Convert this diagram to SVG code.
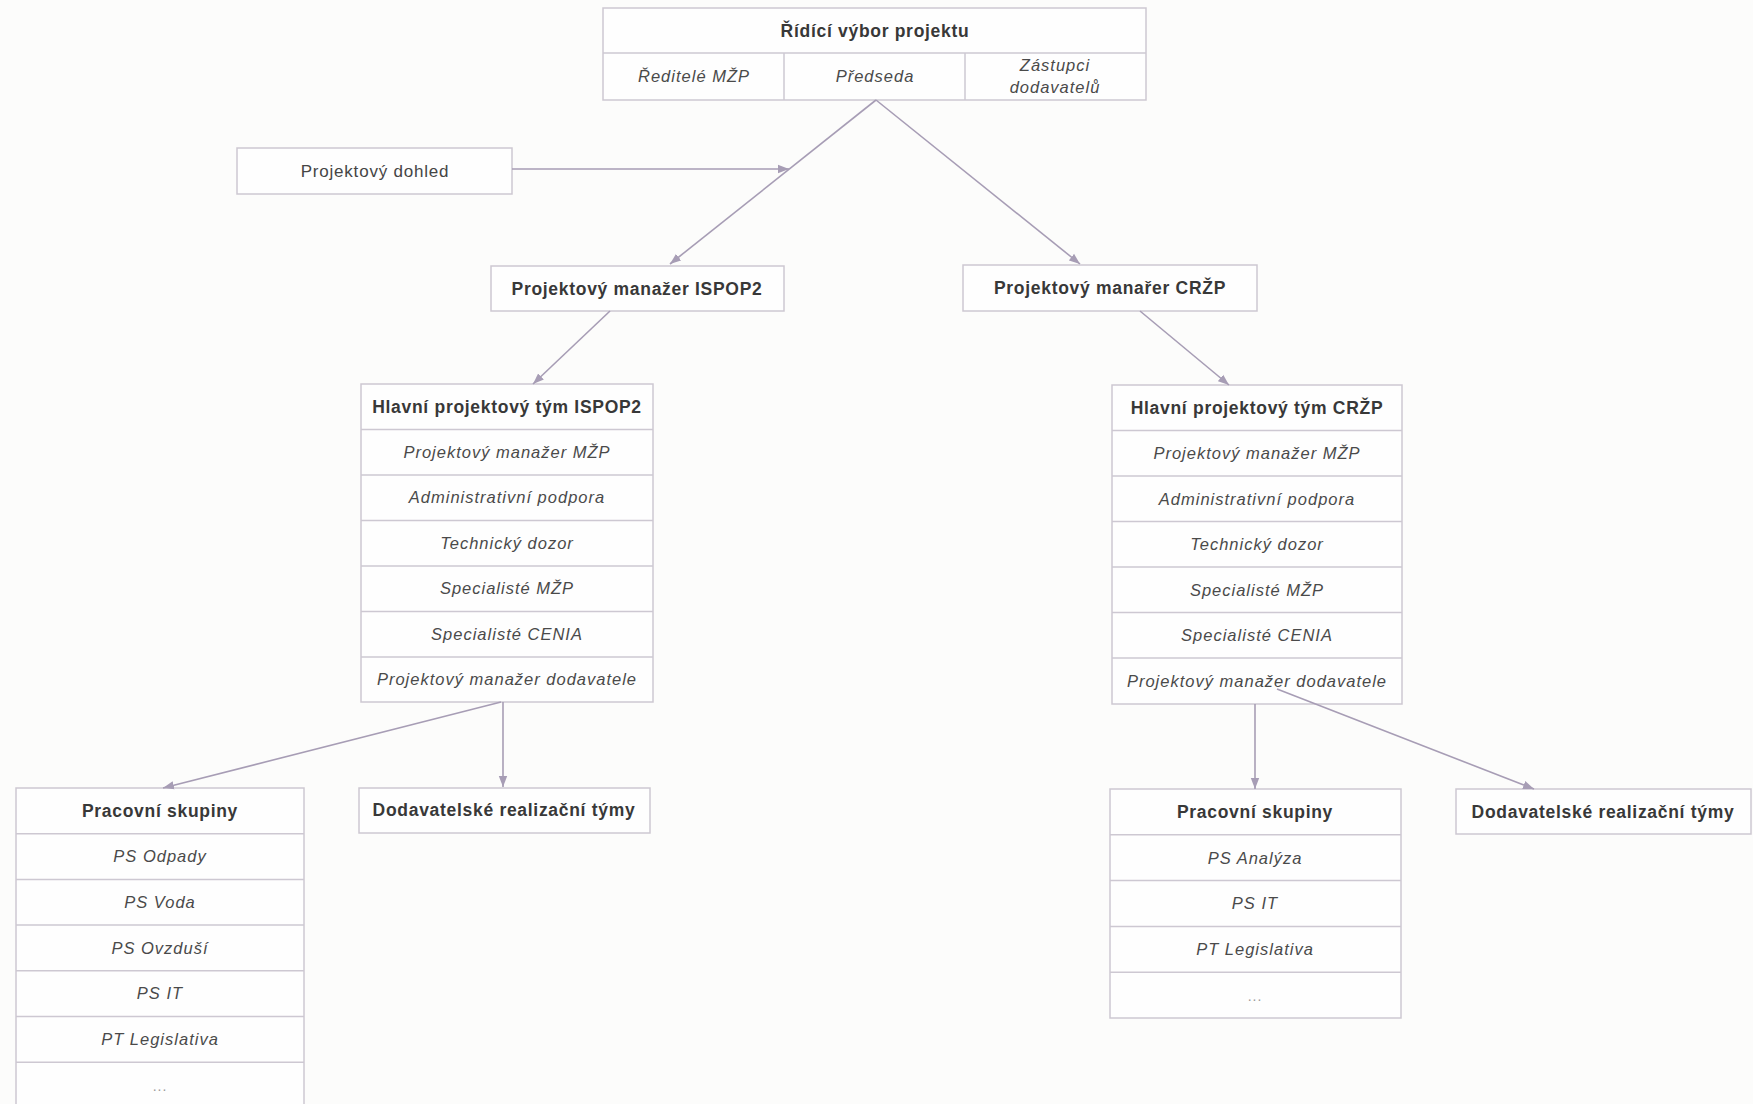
<svg xmlns="http://www.w3.org/2000/svg" width="1753" height="1104" viewBox="0 0 1753 1104">
<defs>
<marker id="ah" markerUnits="userSpaceOnUse" markerWidth="12" markerHeight="10" viewBox="0 0 12 10" refX="11" refY="5" orient="auto">
<path d="M0,0.8 L11,5 L0,9.2 Z" fill="#a79db5"/>
</marker>
<style>
.box{fill:#fefefe;stroke:#cdc8d2;stroke-width:1.5}
.sep{stroke:#cdc8d2;stroke-width:1.5}
.b{font-family:"Liberation Sans",Arial,sans-serif;font-weight:bold;font-size:17.5px;letter-spacing:0.7px;fill:#383838;text-anchor:middle}
.i{font-family:"Liberation Sans",Arial,sans-serif;font-style:italic;font-size:16.5px;letter-spacing:1px;fill:#4a4a4a;text-anchor:middle}
.r{font-family:"Liberation Sans",Arial,sans-serif;font-size:17px;letter-spacing:0.8px;fill:#454545;text-anchor:middle}
.d{font-family:"Liberation Sans",Arial,sans-serif;font-size:14px;letter-spacing:1px;fill:#9a9a9a;text-anchor:middle}
.c{stroke:#a79db5;stroke-width:1.6;fill:none;marker-end:url(#ah)}
</style>
</defs>
<rect width="1753" height="1104" fill="#fcfcfb"/>

<g id="ridici-vybor">
<rect class="box" x="603" y="8" width="543" height="92"/>
<line class="sep" x1="603" y1="53" x2="1146" y2="53"/>
<line class="sep" x1="784" y1="53" x2="784" y2="100"/>
<line class="sep" x1="965" y1="53" x2="965" y2="100"/>
<text class="b" x="875" y="37">Řídící výbor projektu</text>
<text class="i" x="694" y="82">Ředitelé MŽP</text>
<text class="i" x="875" y="82">Předseda</text>
<text class="i" x="1055" y="71">Zástupci</text>
<text class="i" x="1055" y="93">dodavatelů</text>
</g>

<g id="projektovy-dohled">
<rect class="box" x="237" y="148" width="275" height="46"/>
<text class="r" x="375" y="177">Projektový dohled</text>
</g>

<g id="pm-ispop2">
<rect class="box" x="491" y="266" width="293" height="45"/>
<text class="b" x="637" y="295">Projektový manažer ISPOP2</text>
</g>

<g id="pm-crzp">
<rect class="box" x="963" y="265" width="294" height="46"/>
<text class="b" x="1110" y="294">Projektový manařer CRŽP</text>
</g>

<g id="tym-ispop2">
<rect class="box" x="361" y="384" width="292" height="318"/>
<line class="sep" x1="361" y1="429.5" x2="653" y2="429.5"/>
<line class="sep" x1="361" y1="475" x2="653" y2="475"/>
<line class="sep" x1="361" y1="520.5" x2="653" y2="520.5"/>
<line class="sep" x1="361" y1="566" x2="653" y2="566"/>
<line class="sep" x1="361" y1="611.5" x2="653" y2="611.5"/>
<line class="sep" x1="361" y1="657" x2="653" y2="657"/>
<text class="b" x="507" y="413">Hlavní projektový tým ISPOP2</text>
<text class="i" x="507" y="458">Projektový manažer MŽP</text>
<text class="i" x="507" y="503">Administrativní podpora</text>
<text class="i" x="507" y="549">Technický dozor</text>
<text class="i" x="507" y="594">Specialisté MŽP</text>
<text class="i" x="507" y="640">Specialisté CENIA</text>
<text class="i" x="507" y="685">Projektový manažer dodavatele</text>
</g>

<g id="tym-crzp">
<rect class="box" x="1112" y="385" width="290" height="319"/>
<line class="sep" x1="1112" y1="430.5" x2="1402" y2="430.5"/>
<line class="sep" x1="1112" y1="476" x2="1402" y2="476"/>
<line class="sep" x1="1112" y1="521.5" x2="1402" y2="521.5"/>
<line class="sep" x1="1112" y1="567" x2="1402" y2="567"/>
<line class="sep" x1="1112" y1="612.5" x2="1402" y2="612.5"/>
<line class="sep" x1="1112" y1="658" x2="1402" y2="658"/>
<text class="b" x="1257" y="414">Hlavní projektový tým CRŽP</text>
<text class="i" x="1257" y="459">Projektový manažer MŽP</text>
<text class="i" x="1257" y="505">Administrativní podpora</text>
<text class="i" x="1257" y="550">Technický dozor</text>
<text class="i" x="1257" y="596">Specialisté MŽP</text>
<text class="i" x="1257" y="641">Specialisté CENIA</text>
<text class="i" x="1257" y="687">Projektový manažer dodavatele</text>
</g>

<g id="ps-ispop2">
<rect class="box" x="16" y="788" width="288" height="320"/>
<line class="sep" x1="16" y1="833.7" x2="304" y2="833.7"/>
<line class="sep" x1="16" y1="879.4" x2="304" y2="879.4"/>
<line class="sep" x1="16" y1="925.1" x2="304" y2="925.1"/>
<line class="sep" x1="16" y1="970.8" x2="304" y2="970.8"/>
<line class="sep" x1="16" y1="1016.5" x2="304" y2="1016.5"/>
<line class="sep" x1="16" y1="1062.2" x2="304" y2="1062.2"/>
<text class="b" x="160" y="817">Pracovní skupiny</text>
<text class="i" x="160" y="862">PS Odpady</text>
<text class="i" x="160" y="908">PS Voda</text>
<text class="i" x="160" y="954">PS Ovzduší</text>
<text class="i" x="160" y="999">PS IT</text>
<text class="i" x="160" y="1045">PT Legislativa</text>
<text class="d" x="160" y="1091">...</text>
</g>

<g id="dodavatelske-ispop2">
<rect class="box" x="359" y="788" width="291" height="45"/>
<text class="b" x="504" y="816">Dodavatelské realizační týmy</text>
</g>

<g id="ps-crzp">
<rect class="box" x="1110" y="789" width="291" height="229"/>
<line class="sep" x1="1110" y1="834.8" x2="1401" y2="834.8"/>
<line class="sep" x1="1110" y1="880.6" x2="1401" y2="880.6"/>
<line class="sep" x1="1110" y1="926.4" x2="1401" y2="926.4"/>
<line class="sep" x1="1110" y1="972.2" x2="1401" y2="972.2"/>
<text class="b" x="1255" y="818">Pracovní skupiny</text>
<text class="i" x="1255" y="864">PS Analýza</text>
<text class="i" x="1255" y="909">PS IT</text>
<text class="i" x="1255" y="955">PT Legislativa</text>
<text class="d" x="1255" y="1001">...</text>
</g>

<g id="dodavatelske-crzp">
<rect class="box" x="1456" y="789" width="295" height="45"/>
<text class="b" x="1603" y="818">Dodavatelské realizační týmy</text>
</g>

<g id="connectors">
<line class="c" x1="876" y1="100" x2="670" y2="264"/>
<line class="c" x1="876" y1="100" x2="1080" y2="264"/>
<line class="c" x1="512" y1="169" x2="789" y2="169"/>
<line class="c" x1="610" y1="311" x2="533" y2="384"/>
<line class="c" x1="1140" y1="311" x2="1229" y2="385"/>
<line class="c" x1="501" y1="702" x2="163" y2="788"/>
<line class="c" x1="503" y1="702" x2="503" y2="787"/>
<line class="c" x1="1255" y1="704" x2="1255" y2="789"/>
<line class="c" x1="1277" y1="689" x2="1534" y2="789"/>
</g>
</svg>
